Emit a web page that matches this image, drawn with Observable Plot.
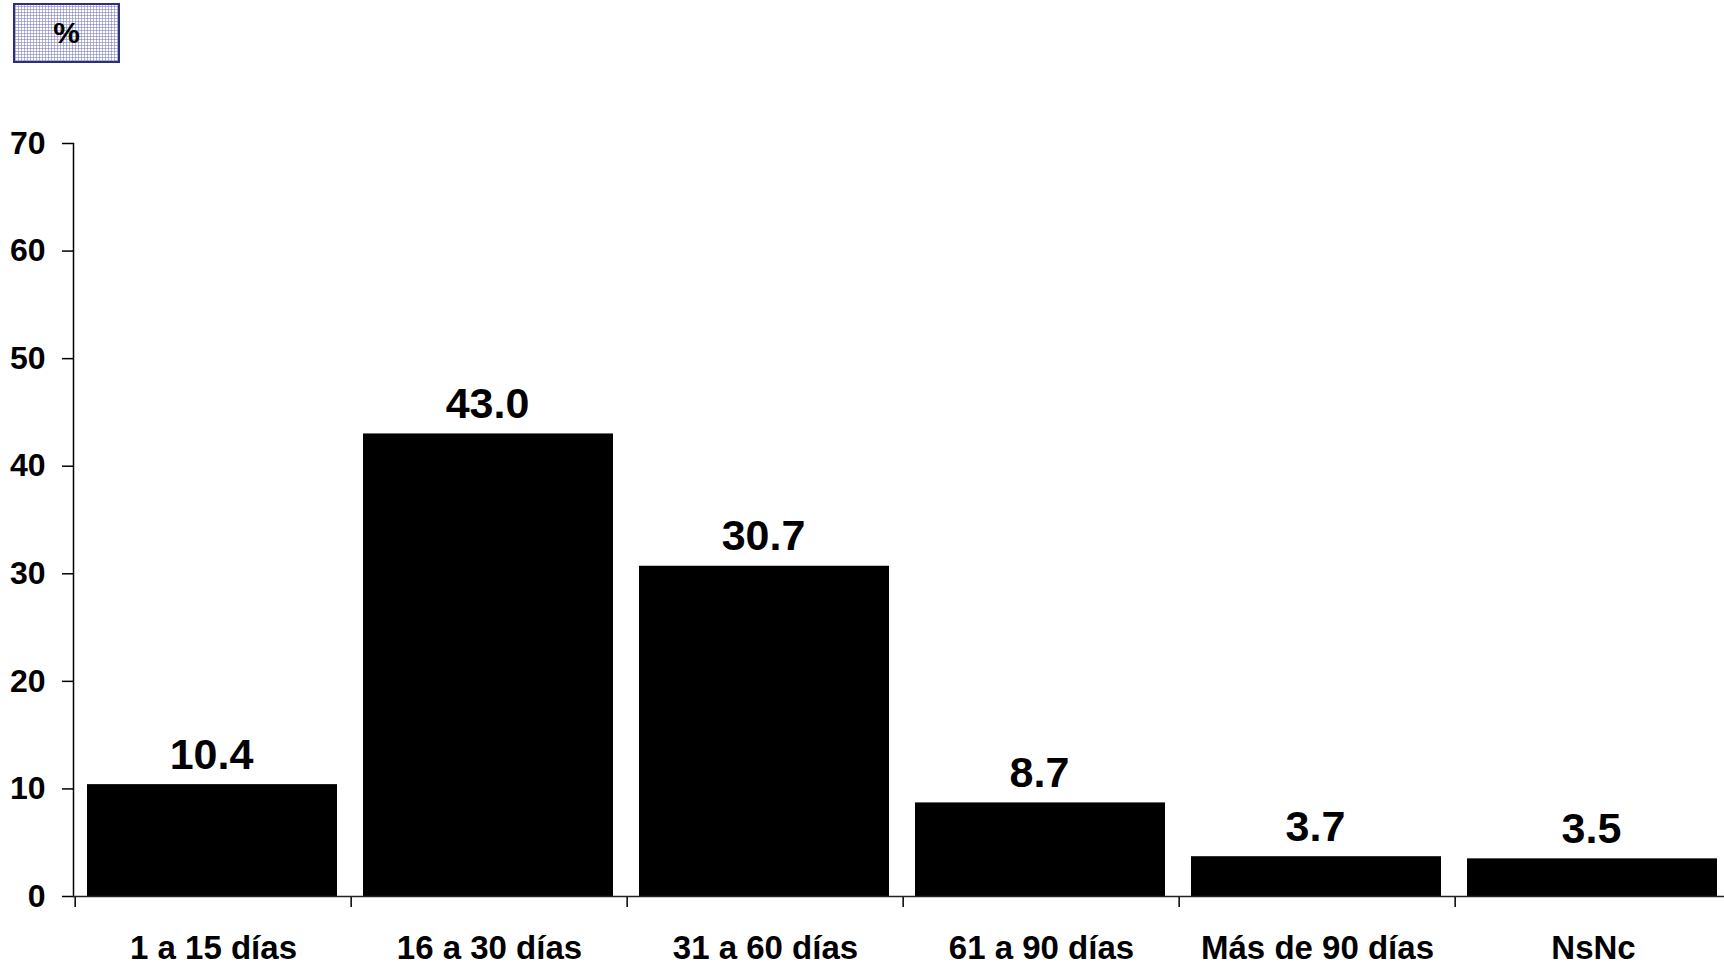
<!DOCTYPE html>
<html>
<head>
<meta charset="utf-8">
<script src="https://cdn.jsdelivr.net/npm/d3@7"></script>
<script src="https://cdn.jsdelivr.net/npm/@observablehq/plot@0.6"></script>
<style>
  html, body { margin: 0; padding: 0; background: #fff; overflow: hidden; }
  #wrap { position: relative; width: 1724px; height: 965px; }
  #unit {
    position: absolute; left: 13px; top: 3px; width: 103px; height: 56px;
    border: 2px solid #2e2f7c;
    background-color: #ffffff;
    background-image:
      repeating-linear-gradient(0deg, rgba(120,120,190,0.55) 0px, rgba(120,120,190,0.55) 1px, transparent 1px, transparent 3px),
      repeating-linear-gradient(90deg, rgba(120,120,190,0.55) 0px, rgba(120,120,190,0.55) 1px, transparent 1px, transparent 3px);
    font-family: "Liberation Sans", Arial, sans-serif; font-weight: bold; font-size: 30px;
    display: flex; align-items: center; justify-content: center; color: #000;
  }
</style>
</head>
<body>
<div id="wrap">
  <div id="chart"></div>
  <div id="unit">%</div>
</div>
<script>
const categories = ["1 a 15 días", "16 a 30 días", "31 a 60 días", "61 a 90 días", "Más de 90 días", "NsNc"];
const values = [10.4, 43.0, 30.7, 8.7, 3.7, 3.5];
const yTicks = [0, 10, 20, 30, 40, 50, 60, 70];
const unitLabel = "%";

const data = categories.map((c, i) => ({category: c, value: values[i]}));

const width = 1724, height = 965;
const marginLeft = 73, marginRight = -9, marginTop = 143, marginBottom = 69;
const bw = (width - marginLeft - marginRight) / categories.length;

const chart = Plot.plot({
  width, height, marginLeft, marginRight, marginTop, marginBottom,
  style: {fontFamily: "'Liberation Sans', Arial, sans-serif", fontWeight: "bold", color: "#000", background: "#fff", overflow: "visible"},
  x: {domain: categories, padding: 0, label: null},
  y: {domain: [0, 70], label: null},
  marks: [
    Plot.barY(data, {x: "category", y: "value", fill: "#000", insetLeft: 12, insetRight: 14}),
    Plot.text(data, {x: "category", y: "value", text: d => d3.format(".1f")(d.value), lineAnchor: "bottom", dy: -16, dx: -2, fontSize: 43, fontWeight: "bold", fill: "#000"}),
    Plot.axisY({ticks: yTicks, tickSize: 11, tickPadding: 17, fontSize: 32, fontWeight: "bold", stroke: "#000", strokeWidth: 1.5, label: null}),
    Plot.axisX({tickSize: 0, tickPadding: 39, fontSize: 33, fontWeight: "bold", label: null}),
    Plot.ruleX(categories, {x: d => d, y1: 0, y2: 0, insetBottom: -11, dx: -bw / 2, stroke: "#000", strokeWidth: 1.5}),
    Plot.frame({anchor: "left", stroke: "#000", strokeWidth: 1.5}),
    Plot.ruleY([0], {stroke: "#222", strokeWidth: 1.5})
  ]
});
document.getElementById("chart").appendChild(chart);
document.getElementById("unit").textContent = unitLabel;
</script>
</body>
</html>
